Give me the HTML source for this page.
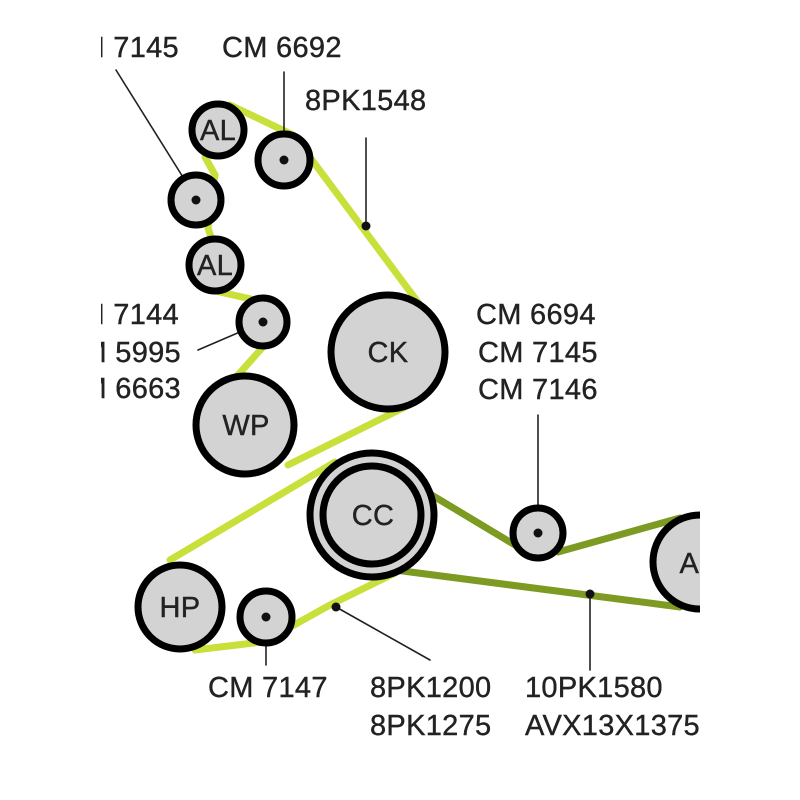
<!DOCTYPE html>
<html><head><style>body{margin:0;background:#fff}svg{display:block}text{font-family:"Liberation Sans",sans-serif;font-size:29px;letter-spacing:0.3px;fill:#222;stroke:#222;stroke-width:0.4}</style></head><body>
<svg width="800" height="800" viewBox="0 0 800 800">
<defs><clipPath id="c"><rect x="101" y="0" width="599" height="800"/></clipPath></defs>
<g clip-path="url(#c)">
<g fill="none" stroke-linecap="round">
<g stroke="#c9e03a" stroke-width="7">
<polyline points="230,105 293,135 312,160 420,305 440,350 405,407 288,465"/>
<polyline points="205,157 215,175 208,228 212,240 220,292 255,300 262,348 238,375"/>
<polyline points="335,462 170,560"/>
<polyline points="195,650 262,642 285,630 330,605 395,573"/>
</g>
<g stroke="#7d9a22" stroke-width="7">
<polyline points="420,488 515,545"/>
<polyline points="558,552 680,518"/>
<polyline points="395,570 680,607"/>
</g>
<g stroke="#222" stroke-width="1.6">
<line x1="284" y1="160" x2="284" y2="72"/>
<line x1="366" y1="226" x2="366" y2="138"/>
<line x1="196" y1="198" x2="116" y2="70"/>
<line x1="263" y1="322" x2="198" y2="350"/>
<line x1="538" y1="532" x2="538" y2="415"/>
<line x1="266" y1="617" x2="266" y2="665"/>
<line x1="336" y1="607" x2="430" y2="660"/>
<line x1="590" y1="594" x2="590" y2="670"/>
</g>
</g>
<g fill="#d3d3d3" stroke="#000" stroke-width="7">
<circle cx="218" cy="130" r="26"/>
<circle cx="284" cy="160" r="26"/>
<circle cx="196" cy="200" r="25"/>
<circle cx="215" cy="265" r="26"/>
<circle cx="263" cy="322" r="24"/>
<circle cx="245" cy="425" r="49"/>
<circle cx="388" cy="352" r="57"/>
<circle cx="372" cy="515" r="62"/>
<circle cx="372" cy="515" r="49"/>
<circle cx="180" cy="607" r="42"/>
<circle cx="266" cy="617" r="26"/>
<circle cx="538" cy="533" r="25"/>
<circle cx="700" cy="562" r="47"/>
</g>
<g fill="#111">
<circle cx="284" cy="160" r="4.5"/><circle cx="196" cy="200" r="4.5"/><circle cx="263" cy="322" r="4.5"/>
<circle cx="266" cy="617" r="4.5"/><circle cx="538" cy="533" r="4.5"/>
<circle cx="366" cy="226" r="4.5"/><circle cx="336" cy="607" r="4.5"/><circle cx="590" cy="594" r="4.5"/>
</g>
<g text-anchor="middle" style="font-size:27px;letter-spacing:0">
<text x="218" y="140">AL</text><text x="215" y="275">AL</text>
<text x="246" y="435">WP</text><text x="388" y="362">CK</text>
<text x="373" y="525">CC</text><text x="180" y="617">HP</text><text x="700" y="573">AC</text>
</g>
<g text-anchor="end">
<text x="179" y="57">CM 7145</text>
<text x="179" y="324">CM 7144</text>
<text x="181" y="362">CM 5995</text>
<text x="181" y="398">CM 6663</text>
</g>
</g>
<text x="222" y="57">CM 6692</text>
<text x="305" y="110">8PK1548</text>
<text x="476" y="324">CM 6694</text>
<text x="478" y="362">CM 7145</text>
<text x="478" y="399">CM 7146</text>
<text x="208" y="697">CM 7147</text>
<text x="370" y="697">8PK1200</text>
<text x="370" y="735">8PK1275</text>
<text x="525" y="697">10PK1580</text>
<text x="525" y="735">AVX13X1375</text>
</svg>
</body></html>
